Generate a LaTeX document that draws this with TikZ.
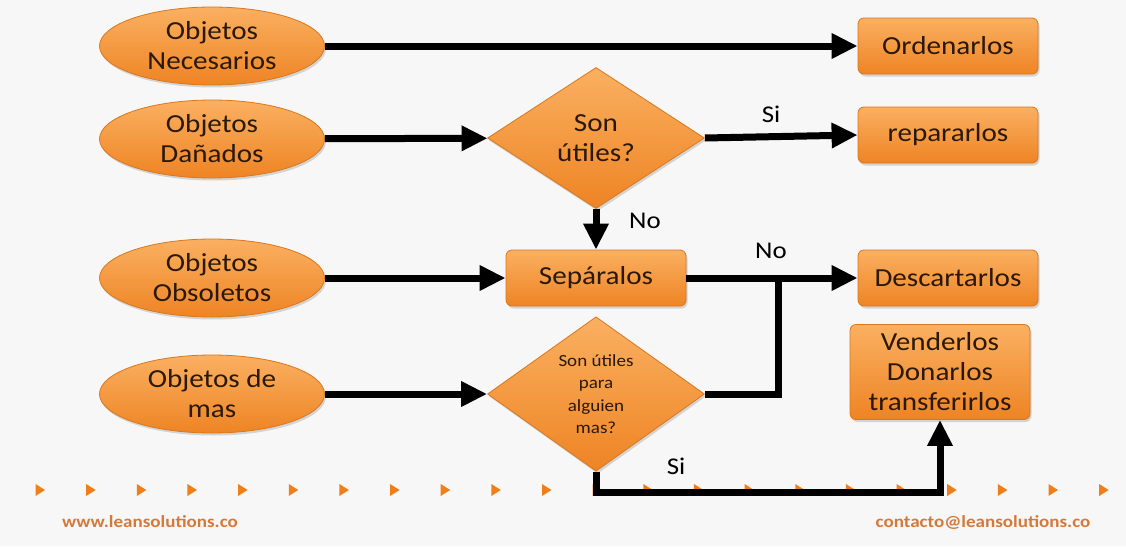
\documentclass[tikz,border=0pt]{standalone}
\usepackage{fontspec}
\setmainfont{Carlito}[FakeStretch=1.12]
\usetikzlibrary{shapes.geometric,arrows.meta,shadows}
\definecolor{bg}{HTML}{F7F7F7}
\definecolor{orT}{HTML}{FAB061}
\definecolor{orB}{HTML}{EE8424}
\definecolor{orD}{HTML}{D9771E}
\definecolor{txt}{HTML}{2A1808}
\definecolor{web}{HTML}{D4793A}
\definecolor{tri}{HTML}{F07F1A}
\begin{document}
\begin{tikzpicture}[x=1pt,y=-1pt,
  shapebase/.style={draw=orD, line width=0.8pt, top color=orT, bottom color=orB, text=txt,
    font=\fontsize{26}{30}\selectfont, align=center,
    drop shadow={opacity=0.3, shadow xshift=1.5pt, shadow yshift=-2.5pt}},
  oval/.style={shapebase, ellipse, minimum width=225pt, minimum height=78pt, inner sep=0pt},
  decision/.style={shapebase, diamond, minimum width=217pt, minimum height=141pt, inner sep=0pt},
  box/.style={shapebase, rounded corners=6pt, minimum width=180pt, minimum height=56pt, inner sep=2pt},
  flow/.style={line width=7pt, black, -{Triangle[length=26pt,width=24pt]}},
  plainflow/.style={line width=7pt, black},
  lbl/.style={font=\fontsize{24}{26}\selectfont, text=black},
  footer/.style={font=\bfseries\fontsize{17}{19}\selectfont, text=web}
]
\fill[bg] (0,0) rectangle (1126,546);
\useasboundingbox (0,0) rectangle (1126,546);

% decorative triangles
\foreach \i in {0,...,21}{
  \pgfmathsetmacro{\xx}{40+50.65*\i}
  \fill[tri] (\xx-4.5,484) -- (\xx+5,490) -- (\xx-4.5,496) -- cycle;
}

% nodes
\node[oval] (e1) at (212,46) {Objetos\\Necesarios};
\node[oval] (e2) at (212,139) {Objetos\\Dañados};
\node[oval] (e3) at (212,278) {Objetos\\Obsoletos};
\node[oval] (e4) at (212,394) {Objetos de\\mas};
\node[decision] (d1) at (596,138) {Son\\útiles?};
\node[decision, font=\fontsize{17}{22.5}\selectfont] (d2) at (596,394) {Son útiles\\para\\alguien\\mas?};
\node[box] (sep) at (596,278) {Sepáralos};
\node[box] (ord) at (948,46) {Ordenarlos};
\node[box] (rep) at (948,135) {repararlos};
\node[box] (des) at (948,278) {Descartarlos};
\node[box, minimum height=95pt] (ven) at (940,372) {Venderlos\\Donarlos\\transferirlos};

\coordinate (j) at (778,278);
\coordinate (c1) at (596,492);

% connectors
\draw[flow] (e1) -- (ord);
\draw[flow] (e2) -- (d1);
\draw[flow] (d1.east) -- (rep.west);
\draw[flow] (d1.south) -- (sep.north);
\draw[flow] (e3) -- (sep);
\draw[flow] (sep) -- (des);
\draw[flow] (e4) -- (d2.west);
\draw[plainflow] (d2.east) -| (j);
\draw[flow] (d2.south) -- (c1) -| (ven.south);

% labels
\node[lbl] (lsi1) at (771,114) {Si};
\node[lbl] (lno1) at (645,221) {No};
\node[lbl] (lno2) at (771,251) {No};
\node[lbl] (lsi2) at (676,466) {Si};

% footer
\node[footer] (w1) at (150,522) {www.leansolutions.co};
\node[footer] (w2) at (983,522) {contacto@leansolutions.co};
\end{tikzpicture}
\end{document}
